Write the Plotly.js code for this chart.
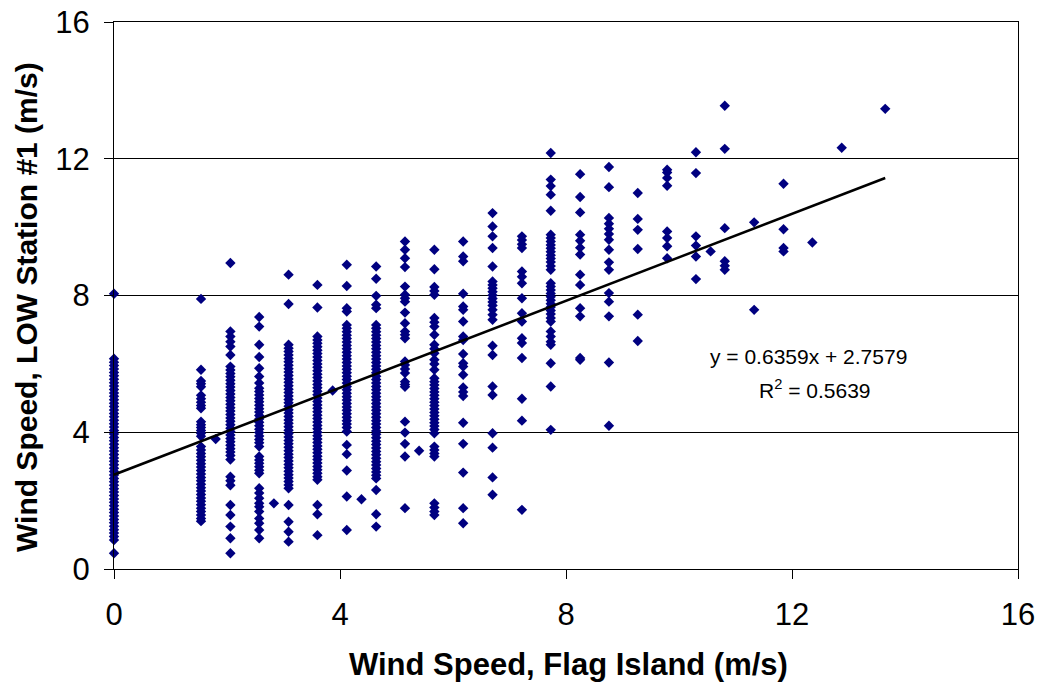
<!DOCTYPE html>
<html>
<head>
<meta charset="utf-8">
<script src="https://cdn.plot.ly/plotly-3.0.1.min.js"></script>
<style>html,body{margin:0;padding:0;background:#fff;}#chart{width:1042px;height:687px;}</style>
</head>
<body>
<div id="chart"></div>
<script>
// Flag Island wind speed columns (m/s) and LOW Station #1 readings at each
const flagIslandX = [0, 1.54, 2.06, 2.57, 3.09, 3.60, 4.12, 4.64, 5.15, 5.67, 6.18, 6.70, 7.22, 7.73, 8.25, 8.76, 9.27, 9.79, 10.30, 10.81, 11.33, 11.85, 12.36, 12.88, 13.65];
const lowStationY = [
  [8.05, 6.15, 6.05, 5.95, 5.85, 5.75, 5.65, 5.55, 5.45, 5.35, 5.25, 5.15, 5.05, 4.95, 4.85, 4.75, 4.65, 4.55, 4.45, 4.35, 4.25, 4.15, 4.05, 3.95, 3.85, 3.75, 3.65, 3.55, 3.45, 3.35, 3.25, 3.15, 3.05, 2.95, 2.85, 2.75, 2.65, 2.55, 2.45, 2.35, 2.25, 2.15, 2.05, 1.95, 1.85, 1.75, 1.65, 1.55, 1.45, 1.35, 1.25, 1.15, 1.05, 0.95, 0.85, 0.46],
  [7.90, 5.83, 5.50, 5.42, 5.33, 5.08, 4.98, 4.88, 4.78, 4.70, 4.31, 4.22, 4.14, 4.05, 3.97, 3.88, 3.58, 3.48, 3.38, 3.28, 3.18, 3.08, 2.98, 2.88, 2.78, 2.68, 2.58, 2.48, 2.38, 2.28, 2.18, 2.08, 1.98, 1.88, 1.78, 1.68, 1.58, 1.48, 1.40],
  [8.95, 6.95, 6.80, 6.65, 6.51, 6.26, 5.92, 5.82, 5.72, 5.62, 5.52, 5.42, 5.32, 5.22, 5.12, 5.02, 4.92, 4.82, 4.72, 4.62, 4.52, 4.42, 4.32, 4.22, 4.12, 4.02, 3.92, 3.82, 3.72, 3.62, 3.52, 3.42, 3.32, 3.20, 2.70, 2.58, 2.45, 1.87, 1.58, 1.24, 0.90, 0.46],
  [7.37, 7.09, 6.56, 6.20, 5.87, 5.63, 5.44, 5.29, 5.19, 5.09, 4.99, 4.89, 4.79, 4.69, 4.59, 4.49, 4.39, 4.29, 4.19, 4.09, 3.99, 3.89, 3.79, 3.69, 3.58, 3.29, 3.19, 3.09, 2.99, 2.89, 2.80, 2.36, 2.22, 2.07, 1.92, 1.82, 1.68, 1.48, 1.34, 1.14, 0.90],
  [8.61, 7.75, 6.56, 6.46, 6.36, 6.26, 6.16, 6.06, 5.96, 5.86, 5.76, 5.66, 5.56, 5.46, 5.36, 5.26, 5.16, 5.06, 4.96, 4.86, 4.76, 4.66, 4.56, 4.46, 4.36, 4.26, 4.16, 4.06, 3.96, 3.86, 3.76, 3.66, 3.56, 3.46, 3.36, 3.26, 3.16, 3.06, 2.96, 2.86, 2.76, 2.66, 2.56, 2.46, 2.36, 1.87, 1.38, 1.09, 0.80],
  [8.31, 7.65, 6.80, 6.70, 6.60, 6.50, 6.40, 6.30, 6.20, 6.10, 6.00, 5.90, 5.80, 5.70, 5.60, 5.50, 5.40, 5.30, 5.20, 5.10, 5.00, 4.90, 4.80, 4.70, 4.60, 4.50, 4.40, 4.30, 4.20, 4.10, 4.00, 3.90, 3.80, 3.70, 3.60, 3.50, 3.40, 3.30, 3.20, 3.10, 3.00, 2.90, 2.80, 2.70, 2.61, 1.87, 1.60, 0.99],
  [8.90, 8.28, 7.63, 7.53, 7.14, 7.04, 6.94, 6.84, 6.74, 6.64, 6.54, 6.44, 6.34, 6.24, 6.14, 6.04, 5.94, 5.84, 5.74, 5.64, 5.54, 5.44, 5.34, 5.24, 5.14, 5.04, 4.94, 4.84, 4.74, 4.64, 4.54, 4.44, 4.34, 4.24, 4.14, 4.02, 3.63, 3.36, 2.88, 2.12, 1.14],
  [8.85, 8.49, 7.99, 7.73, 7.63, 7.14, 7.04, 6.94, 6.84, 6.74, 6.64, 6.54, 6.44, 6.34, 6.24, 6.14, 6.04, 5.94, 5.84, 5.74, 5.64, 5.54, 5.44, 5.34, 5.24, 5.14, 5.04, 4.94, 4.84, 4.74, 4.64, 4.54, 4.44, 4.34, 4.24, 4.14, 4.04, 3.94, 3.84, 3.74, 3.64, 3.54, 3.44, 3.34, 3.24, 3.14, 3.04, 2.94, 2.84, 2.74, 2.65, 2.31, 1.60, 1.24],
  [9.58, 9.34, 9.09, 8.83, 8.26, 8.02, 7.92, 7.82, 7.50, 7.19, 6.95, 6.85, 6.75, 6.07, 5.97, 5.85, 5.73, 5.48, 5.40, 5.33, 4.31, 3.99, 3.66, 3.29, 1.78],
  [9.34, 8.77, 8.25, 8.13, 8.02, 7.34, 7.22, 7.09, 6.85, 6.56, 6.44, 6.31, 6.12, 6.00, 5.83, 5.58, 5.48, 5.38, 5.28, 5.18, 5.08, 4.98, 4.88, 4.78, 4.68, 4.58, 4.48, 4.38, 4.28, 4.18, 4.08, 3.97, 3.58, 3.48, 3.38, 3.29, 1.92, 1.80, 1.68, 1.58],
  [9.58, 9.14, 9.00, 8.05, 7.68, 7.58, 7.24, 6.80, 6.70, 6.29, 6.02, 5.92, 5.68, 5.31, 5.18, 5.06, 4.28, 3.66, 2.82, 1.78, 1.34],
  [10.41, 10.02, 9.73, 9.39, 8.85, 8.41, 8.31, 8.21, 8.11, 8.01, 7.91, 7.81, 7.71, 7.58, 7.44, 7.29, 6.53, 6.26, 5.34, 5.09, 3.97, 3.55, 2.68, 2.17],
  [9.73, 9.62, 9.50, 9.39, 8.70, 8.55, 8.36, 7.92, 7.48, 7.24, 6.75, 6.61, 6.17, 4.98, 4.34, 1.73],
  [12.17, 11.39, 11.20, 10.95, 10.48, 9.78, 9.68, 9.58, 9.48, 9.38, 9.28, 9.18, 9.08, 8.98, 8.86, 8.75, 8.36, 8.26, 8.16, 8.06, 7.96, 7.86, 7.76, 7.66, 7.56, 7.46, 7.34, 7.24, 6.95, 6.80, 6.65, 6.56, 6.02, 5.34, 4.07],
  [11.55, 10.88, 10.43, 9.78, 9.60, 9.40, 9.20, 8.61, 8.31, 7.63, 7.39, 6.17, 6.12],
  [11.76, 11.17, 10.27, 10.10, 9.95, 9.80, 9.63, 9.34, 8.97, 8.75, 8.07, 7.82, 7.39, 6.04, 4.19],
  [11.00, 10.24, 9.92, 9.36, 7.44, 6.67],
  [11.68, 11.60, 11.44, 11.21, 9.87, 9.68, 9.44, 9.09],
  [12.19, 11.58, 9.73, 9.46, 9.14, 8.48],
  [13.55, 12.29, 9.97, 9.00, 8.87, 8.75],
  [10.14, 7.58],
  [11.27, 9.94, 9.39, 9.29],
  [9.55],
  [12.32],
  [13.46]
];
// Isolated points between the main columns
const strayX = [1.80, 2.83, 3.87, 4.38, 5.40, 10.56];
const strayY = [3.80, 1.92, 5.22, 2.04, 3.46, 9.29];

// Linear trendline shown in the chart
const fitSlope = 0.6359;
const fitIntercept = 2.7579;
const fitR2 = 0.5639;
const fitRange = [0, 13.65];

const xTicks = [0, 4, 8, 12, 16];
const yTicks = [0, 4, 8, 12, 16];

const xs = [], ys = [];
flagIslandX.forEach((xv, i) => lowStationY[i].forEach(yv => { xs.push(xv); ys.push(yv); }));
strayX.forEach((xv, i) => { xs.push(xv); ys.push(strayY[i]); });

const font = 'Arial, "Liberation Sans", sans-serif';

const traces = [
  {
    type: 'scatter', mode: 'markers', x: xs, y: ys, cliponaxis: false,
    marker: {symbol: 'diamond', size: 8, color: '#000080', line: {width: 0}},
    hoverinfo: 'x+y', showlegend: false
  },
  {
    type: 'scatter', mode: 'lines',
    x: fitRange, y: fitRange.map(v => fitSlope * v + fitIntercept),
    line: {color: '#000000', width: 2.5}, hoverinfo: 'skip', showlegend: false
  }
];

const layout = {
  width: 1042, height: 687,
  margin: {l: 114, r: 24, t: 22, b: 118},
  paper_bgcolor: '#ffffff', plot_bgcolor: '#ffffff',
  font: {family: font, color: '#000000'},
  xaxis: {
    range: [0, 16], tickvals: xTicks, ticktext: xTicks.map(String),
    showgrid: false, zeroline: false,
    showline: true, linecolor: '#000000', linewidth: 1, mirror: true,
    ticks: 'outside', ticklen: 9, tickwidth: 1, tickcolor: '#000000',
    tickfont: {size: 31, family: font, color: '#000'},
    ticklabelstandoff: 9
  },
  yaxis: {
    range: [0, 16], tickvals: yTicks, ticktext: yTicks.map(String),
    showgrid: true, gridcolor: '#000000', gridwidth: 1, zeroline: false,
    showline: true, linecolor: '#000000', linewidth: 1, mirror: true,
    ticks: 'outside', ticklen: 9, tickwidth: 1, tickcolor: '#000000',
    tickfont: {size: 31, family: font, color: '#000'},
    ticklabelstandoff: 8
  },
  annotations: [
    {xref: 'paper', yref: 'paper', x: 0.503, y: (569 - 665) / 547, xanchor: 'center', yanchor: 'middle',
     text: '<b>Wind Speed, Flag Island (m/s)</b>', showarrow: false, font: {size: 31, family: font, color: '#000'}},
    {xref: 'paper', yref: 'paper', x: (26 - 114) / 904, y: (569 - 307) / 547, xanchor: 'center', yanchor: 'middle',
     text: '<b>Wind Speed, LOW Station #1 (m/s)</b>', textangle: -90, showarrow: false, font: {size: 30, family: font, color: '#000'}},
    {xref: 'x', yref: 'y', x: 12.30, y: 6.21, xanchor: 'center', yanchor: 'middle',
     text: 'y = ' + fitSlope.toFixed(4) + 'x + ' + fitIntercept.toFixed(4), showarrow: false, font: {size: 21, family: font, color: '#000'}},
    {xref: 'x', yref: 'y', x: 12.41, y: 5.27, xanchor: 'center', yanchor: 'middle',
     text: 'R<sup>2</sup> = ' + fitR2.toFixed(4), showarrow: false, font: {size: 21, family: font, color: '#000'}}
  ]
};

Plotly.newPlot('chart', traces, layout, {displayModeBar: false, staticPlot: true});
</script>
</body>
</html>
